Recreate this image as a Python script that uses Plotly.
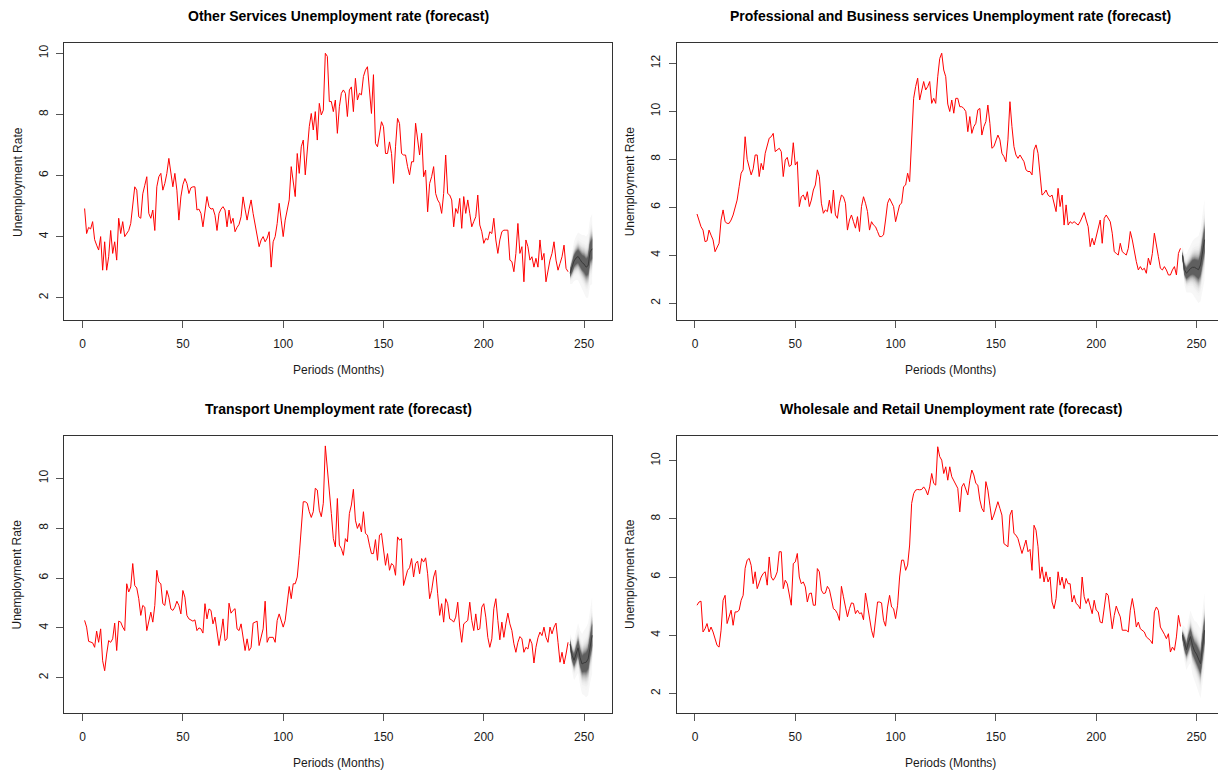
import plotly.graph_objects as go
from statistics import NormalDist

W, H = 1218, 772

# ---- observed monthly unemployment rates (months 1..242) ----
other_services = [
    4.92, 4.10, 4.30, 4.25, 4.49, 3.90, 3.72, 3.56, 4.00, 2.90,
    3.83, 2.90, 3.34, 4.20, 3.45, 3.83, 3.23, 4.60, 4.10, 4.49,
    4.00, 4.10, 4.20, 4.43, 4.98, 5.63, 5.52, 4.65, 4.60, 5.40,
    5.68, 5.96, 4.76, 4.60, 4.87, 4.20, 5.63, 5.96, 6.07, 5.52,
    5.74, 6.07, 6.56, 6.07, 5.63, 6.07, 5.52, 4.54, 5.30, 5.70,
    5.90, 5.74, 5.41, 5.60, 5.63, 5.63, 4.87, 4.90, 4.76, 4.32,
    4.80, 5.31, 4.98, 4.90, 4.92, 4.70, 4.20, 4.76, 4.90, 4.98,
    4.87, 4.32, 4.87, 4.43, 4.60, 4.16, 4.30, 4.40, 4.65, 5.30,
    4.90, 4.54, 4.90, 5.20, 4.76, 4.40, 4.10, 3.67, 3.89, 4.00,
    3.83, 3.95, 4.16, 3.00, 3.83, 4.00, 4.43, 5.09, 4.54, 4.00,
    4.54, 4.90, 5.20, 6.29, 5.85, 5.31, 6.72, 6.07, 6.94, 7.16,
    6.02, 6.94, 7.60, 8.03, 7.49, 8.09, 7.16, 8.36, 7.98, 8.14,
    10.00, 9.90, 8.42, 8.42, 8.09, 8.47, 7.38, 8.25, 8.69, 8.80,
    8.69, 7.93, 8.80, 8.90, 8.09, 9.18, 8.47, 8.69, 8.64, 9.24,
    9.45, 9.56, 8.90, 8.03, 9.30, 7.05, 6.94, 7.38, 7.76, 7.60,
    6.72, 6.72, 7.10, 6.72, 5.74, 6.94, 7.87, 7.70, 6.72, 6.67,
    6.67, 6.29, 6.02, 6.45, 6.45, 7.71, 7.16, 6.67, 7.38, 5.96,
    6.18, 4.81, 5.74, 5.96, 6.29, 5.41, 5.20, 5.09, 4.76, 5.41,
    6.67, 5.41, 5.36, 5.20, 4.32, 4.92, 4.76, 5.25, 4.27, 5.31,
    4.76, 5.20, 4.76, 4.32, 4.49, 4.65, 5.36, 4.38, 4.16, 3.78,
    3.94, 3.89, 4.16, 4.10, 4.60, 3.89, 3.45, 3.89, 4.16, 4.21,
    4.21, 4.21, 3.23, 3.18, 2.85, 3.45, 4.43, 3.45, 3.67, 2.52,
    3.89, 3.67, 3.23, 3.34, 3.00, 3.29, 3.00, 3.89, 3.23, 3.45,
    2.52, 2.90, 3.23, 3.45, 3.83, 3.23, 2.90, 3.12, 3.34, 3.72,
    2.96, 2.85,
]

prof_business = [
    5.72, 5.40, 5.19, 5.05, 4.57, 4.60, 5.05, 4.84, 4.64, 4.15,
    4.36, 4.50, 5.47, 5.89, 5.40, 5.33, 5.33, 5.47, 5.68, 6.03,
    6.30, 6.86, 7.42, 7.56, 8.94, 8.00, 7.70, 7.35, 7.60, 8.18,
    8.18, 7.28, 7.83, 7.56, 8.25, 8.53, 8.88, 8.94, 9.08, 8.32,
    8.39, 8.46, 8.32, 7.28, 7.97, 8.08, 7.70, 7.76, 8.69, 7.76,
    7.90, 6.03, 6.44, 6.51, 6.30, 6.65, 6.03, 6.30, 6.72, 6.93,
    7.56, 7.28, 6.17, 5.75, 5.89, 5.82, 6.30, 5.75, 6.72, 5.68,
    5.54, 6.17, 6.51, 6.44, 6.17, 5.05, 5.47, 5.68, 5.40, 5.13,
    5.61, 4.99, 6.03, 6.44, 6.17, 5.82, 5.05, 5.40, 5.26, 5.19,
    4.99, 4.78, 4.78, 4.85, 5.47, 6.17, 6.37, 6.17, 6.03, 5.40,
    5.75, 6.10, 6.17, 6.86, 6.93, 7.42, 7.07, 8.53, 10.54, 11.03,
    11.38, 10.47, 10.89, 11.24, 10.89, 11.03, 11.24, 10.33, 10.54, 10.33,
    11.44, 12.20, 12.42, 11.72, 11.44, 10.30, 9.99, 10.47, 9.92, 10.54,
    10.54, 10.19, 10.19, 10.12, 9.99, 9.15, 9.78, 9.08, 9.36, 9.50,
    10.06, 10.12, 9.01, 9.36, 9.57, 10.26, 9.50, 8.46, 8.53, 8.81,
    9.01, 8.81, 8.25, 8.11, 7.90, 8.81, 10.40, 9.36, 8.53, 8.18,
    8.04, 8.18, 8.04, 7.90, 7.56, 7.49, 7.49, 7.35, 8.39, 8.60,
    8.25, 7.42, 6.51, 6.58, 6.72, 6.51, 6.44, 6.51, 6.17, 5.82,
    6.79, 6.03, 6.51, 5.26, 6.10, 5.26, 5.40, 5.33, 5.40, 5.33,
    5.26, 5.40, 5.61, 5.78, 5.47, 5.19, 4.36, 4.71, 4.43, 4.78,
    5.05, 5.47, 4.50, 5.54, 5.68, 5.54, 5.40, 4.92, 4.15, 4.08,
    4.01, 4.50, 4.15, 4.08, 4.01, 4.29, 4.99, 4.64, 4.15, 3.74,
    3.39, 3.53, 3.39, 3.46, 3.25, 3.88, 3.60, 4.08, 4.92, 4.36,
    3.94, 3.46, 3.39, 3.53, 3.39, 3.18, 3.18, 3.39, 3.53, 3.18,
    4.08, 4.29,
]

transport = [
    4.30, 4.03, 3.46, 3.44, 3.40, 3.22, 3.87, 3.42, 3.96, 2.68,
    2.28, 2.95, 3.49, 3.42, 3.56, 4.19, 3.09, 4.27, 4.23, 4.03,
    3.89, 5.77, 5.44, 5.64, 6.58, 5.70, 5.60, 5.17, 4.50, 4.90,
    4.83, 3.89, 4.30, 4.63, 4.23, 4.90, 6.31, 5.84, 5.77, 4.97,
    4.90, 5.50, 5.23, 4.76, 4.70, 4.83, 5.07, 4.90, 4.56, 5.50,
    5.23, 4.50, 4.36, 4.30, 4.27, 4.32, 3.89, 4.00, 3.96, 3.79,
    4.97, 4.36, 4.76, 4.70, 4.16, 4.43, 3.76, 3.29, 3.76, 4.36,
    3.49, 3.56, 4.99, 4.59, 4.70, 4.77, 3.96, 3.89, 4.16, 3.69,
    3.09, 3.56, 3.09, 3.22, 4.19, 4.23, 4.27, 3.29, 3.69, 3.96,
    5.07, 3.42, 3.62, 3.62, 3.62, 3.42, 4.30, 4.56, 4.30, 4.03,
    4.30, 5.03, 5.66, 5.17, 5.77, 5.77, 6.04, 6.91, 8.05, 9.06,
    9.06, 9.00, 8.66, 8.43, 8.66, 9.60, 9.53, 8.72, 8.46, 9.00,
    11.30, 10.47, 9.53, 8.59, 7.58, 7.25, 9.19, 7.32, 7.18, 6.91,
    7.58, 7.45, 8.59, 8.93, 9.56, 8.32, 7.99, 8.19, 7.85, 8.66,
    7.79, 7.72, 7.32, 6.98, 6.98, 7.54, 6.71, 7.72, 7.79, 7.25,
    6.51, 6.98, 6.31, 6.58, 6.51, 6.11, 7.65, 7.52, 7.58, 5.70,
    6.04, 6.31, 6.41, 6.78, 6.04, 6.58, 6.68, 6.17, 6.78, 6.64,
    6.81, 6.17, 5.17, 5.50, 6.04, 6.31, 5.37, 4.50, 4.97, 4.23,
    5.17, 4.97, 4.36, 4.32, 4.23, 4.43, 5.03, 4.03, 3.42, 4.16,
    4.23, 4.30, 5.03, 4.30, 3.89, 4.56, 3.92, 3.96, 4.83, 4.97,
    4.43, 3.62, 3.22, 3.56, 4.77, 5.17, 4.30, 3.52, 4.23, 3.62,
    4.16, 4.59, 4.16, 3.89, 3.36, 3.02, 3.42, 3.65, 3.56, 3.02,
    3.22, 3.15, 3.56, 3.36, 2.59, 3.22, 3.60, 3.83, 3.69, 4.03,
    3.62, 3.42, 4.03, 3.76, 4.03, 4.19, 3.42, 2.62, 3.02, 2.55,
    2.95, 3.42,
]

wholesale_retail = [
    5.03, 5.14, 5.17, 4.11, 4.22, 4.40, 4.11, 4.28, 4.11, 3.88,
    3.65, 3.59, 4.17, 5.20, 5.37, 4.40, 4.63, 4.86, 4.34, 4.80,
    4.80, 4.86, 5.20, 5.37, 6.30, 6.58, 6.64, 6.40, 5.77, 6.18,
    5.60, 5.83, 6.00, 6.12, 6.18, 5.72, 6.69, 6.00, 5.89, 6.00,
    6.18, 6.87, 6.87, 5.60, 5.89, 5.77, 5.43, 5.03, 6.46, 6.52,
    6.81, 6.00, 5.77, 5.83, 5.66, 5.14, 5.43, 5.45, 5.03, 5.03,
    6.29, 6.18, 5.55, 5.43, 5.45, 5.68, 5.57, 5.26, 4.91, 4.86,
    4.74, 4.51, 5.68, 5.32, 4.97, 4.63, 4.91, 5.11, 5.09, 4.74,
    4.86, 4.74, 4.77, 4.53, 5.45, 5.03, 4.51, 4.17, 3.92, 4.51,
    5.14, 5.14, 5.11, 4.51, 4.31, 4.97, 5.37, 4.97, 4.91, 4.57,
    5.03, 6.00, 6.58, 6.58, 6.23, 6.41, 7.10, 8.53, 8.87, 8.99,
    9.01, 9.00, 9.01, 9.10, 9.00, 8.82, 9.10, 9.56, 9.22, 9.16,
    10.48, 10.14, 10.02, 9.56, 9.79, 9.33, 9.79, 9.45, 9.33, 9.22,
    9.05, 8.24, 9.10, 9.22, 8.99, 8.82, 9.33, 9.68, 9.51, 9.22,
    9.16, 8.65, 8.36, 8.24, 9.28, 8.99, 8.47, 7.96, 8.13, 8.36,
    8.59, 8.36, 8.13, 7.15, 7.10, 7.04, 8.13, 8.30, 7.50, 7.44,
    7.32, 7.10, 6.81, 7.04, 7.27, 6.87, 6.95, 6.23, 7.78, 7.61,
    7.04, 5.95, 6.35, 5.83, 6.18, 5.83, 6.00, 5.14, 4.91, 5.26,
    6.18, 5.72, 6.00, 5.60, 5.95, 5.77, 5.77, 5.14, 5.37, 5.09,
    5.03, 4.91, 6.00, 5.32, 5.09, 5.26, 4.97, 4.74, 5.20, 4.86,
    4.80, 4.45, 4.42, 4.86, 5.45, 5.37, 4.86, 4.22, 4.68, 5.00,
    4.80, 4.63, 4.17, 4.17, 4.17, 4.11, 4.86, 5.26, 4.86, 4.28,
    4.45, 4.22, 4.17, 4.11, 3.94, 3.88, 3.82, 3.71, 4.80, 4.97,
    4.85, 4.28, 4.17, 4.03, 3.88, 4.05, 3.42, 3.59, 3.48, 3.94,
    4.68, 4.30,
]

# ---- 12-month forecasts: point forecast and 99% half-width ----
other_fc_mean = [2.80, 3.00, 3.20, 3.30, 3.35, 3.25, 3.15, 3.10, 3.00, 3.05, 3.50, 3.60]
other_fc_spread = [0.35, 0.55, 0.65, 0.72, 0.78, 0.84, 0.90, 0.95, 1.00, 1.05, 1.10, 1.15]

prof_fc_mean = [4.00, 3.40, 3.25, 3.35, 3.45, 3.50, 3.50, 3.45, 3.40, 3.60, 4.10, 4.65]
prof_fc_spread = [0.40, 0.65, 0.80, 0.90, 1.00, 1.10, 1.20, 1.30, 1.40, 1.50, 1.60, 1.70]

transport_fc_mean = [3.35, 2.90, 2.70, 2.95, 3.20, 2.80, 2.55, 2.60, 2.62, 2.75, 3.30, 3.70]
transport_fc_spread = [0.40, 0.65, 0.80, 0.90, 1.00, 1.10, 1.20, 1.30, 1.40, 1.45, 1.50, 1.55]

wholesale_fc_mean = [4.00, 3.70, 3.50, 3.75, 3.95, 3.65, 3.45, 3.35, 3.20, 3.02, 3.60, 4.17]
wholesale_fc_spread = [0.35, 0.60, 0.70, 0.80, 0.90, 1.00, 1.05, 1.10, 1.15, 1.20, 1.25, 1.30]

titles = [
    "Other Services Unemployment rate (forecast)",
    "Professional and Business services Unemployment rate (forecast)",
    "Transport Unemployment rate (forecast)",
    "Wholesale and Retail Unemployment rate (forecast)",
]
x_ticks = [0, 50, 100, 150, 200, 250]
x_label = "Periods (Months)"
y_label = "Unemployment Rate"

# fan levels (percent), widest first
fan_levels = list(range(99, 50, -3))

FONT = "Liberation Sans, Arial, Helvetica, sans-serif"
PX_PER_MONTH = 2.006
X_MIN = -9.12

# plot boxes in pixels: left, top, right, bottom
panels = [
    dict(obs=other_services, mean=other_fc_mean, spread=other_fc_spread,
         box=(64.3, 43.3, 612.3, 320.0), yrange=[1.27, 10.327], yticks=[2, 4, 6, 8, 10]),
    dict(obs=prof_business, mean=prof_fc_mean, spread=prof_fc_spread,
         box=(676.7, 43.3, 1218.0, 320.0), yrange=[1.304, 12.833], yticks=[2, 4, 6, 8, 10, 12]),
    dict(obs=transport, mean=transport_fc_mean, spread=transport_fc_spread,
         box=(64.3, 435.7, 612.3, 712.7), yrange=[0.596, 11.71], yticks=[2, 4, 6, 8, 10]),
    dict(obs=wholesale_retail, mean=wholesale_fc_mean, spread=wholesale_fc_spread,
         box=(676.7, 435.7, 1218.0, 712.7), yrange=[1.334, 10.86], yticks=[2, 4, 6, 8, 10]),
]

nd = NormalDist()
z99 = nd.inv_cdf(0.995)

fig = go.Figure()
annotations = []
layout_axes = {}

for i, p in enumerate(panels):
    sfx = "" if i == 0 else str(i + 1)
    xref, yref = "x" + sfx, "y" + sfx
    l, t, r, b = p["box"]
    right_side = r >= W

    n_obs = len(p["obs"])
    obs_x = list(range(1, n_obs + 1))
    fc_x = list(range(n_obs + 1, n_obs + 1 + len(p["mean"])))

    # fan of prediction intervals: pale outer bands, darker towards the centre
    n_lev = len(fan_levels)
    for k, lev in enumerate(fan_levels):
        z = nd.inv_cdf(0.5 + lev / 200.0)
        upper = [m + s * z / z99 for m, s in zip(p["mean"], p["spread"])]
        lower = [m - s * z / z99 for m, s in zip(p["mean"], p["spread"])]
        frac = k / (n_lev - 1)
        g = int(round(247 - (247 - 95) * frac ** 1.5))
        fig.add_trace(go.Scatter(
            x=fc_x + fc_x[::-1], y=upper + lower[::-1],
            fill="toself", fillcolor=f"rgb({g},{g},{g})",
            line=dict(width=0), mode="lines", hoverinfo="skip",
            xaxis=xref, yaxis=yref, showlegend=False,
        ))
    fig.add_trace(go.Scatter(
        x=fc_x, y=p["mean"], mode="lines",
        line=dict(color="#3a3a3a", width=1),
        xaxis=xref, yaxis=yref, showlegend=False,
    ))

    # observed series
    fig.add_trace(go.Scatter(
        x=obs_x, y=p["obs"], mode="lines",
        line=dict(color="#ff0000", width=1),
        xaxis=xref, yaxis=yref, showlegend=False,
    ))

    x_max = X_MIN + (r - l) / PX_PER_MONTH
    layout_axes["xaxis" + sfx] = dict(
        domain=[l / W, r / W], anchor=yref, range=[X_MIN, x_max],
        tickvals=x_ticks, ticks="outside", ticklen=7, tickwidth=1, tickcolor="#555",
        showline=True, linecolor="#333", linewidth=1, mirror=True,
        showgrid=False, zeroline=False, ticklabelstandoff=6,
        tickfont=dict(family=FONT, size=12, color="#1a1a1a"),
    )
    layout_axes["yaxis" + sfx] = dict(
        domain=[1 - b / H, 1 - t / H], anchor=xref, range=p["yrange"],
        tickvals=p["yticks"], ticks="outside", ticklen=7, tickwidth=1, tickcolor="#555",
        showline=True, linecolor="#333", linewidth=1, mirror=not right_side,
        showgrid=False, zeroline=False, tickangle=-90, ticklabelstandoff=4,
        tickfont=dict(family=FONT, size=12, color="#1a1a1a"),
    )

    full_right = l + (264.12 - X_MIN) * PX_PER_MONTH
    cx = (l + full_right) / 2
    annotations.append(dict(
        text=f"<b>{titles[i]}</b>", x=cx / W, y=1 - (t - 27) / H,
        xref="paper", yref="paper", xanchor="center", yanchor="middle",
        showarrow=False, font=dict(family=FONT, size=14, color="#000"),
    ))
    annotations.append(dict(
        text=x_label, x=cx / W, y=1 - (b + 50) / H,
        xref="paper", yref="paper", xanchor="center", yanchor="middle",
        showarrow=False, font=dict(family=FONT, size=12, color="#1a1a1a"),
    ))
    annotations.append(dict(
        text=y_label, x=(l - 47) / W, y=1 - ((t + b) / 2) / H,
        xref="paper", yref="paper", xanchor="center", yanchor="middle",
        textangle=-90, showarrow=False,
        font=dict(family=FONT, size=12, color="#1a1a1a"),
    ))

fig.update_layout(
    width=W, height=H,
    margin=dict(l=0, r=0, t=0, b=0),
    paper_bgcolor="white", plot_bgcolor="white",
    showlegend=False, annotations=annotations,
    **layout_axes,
)

fig.write_html("out.html", config={"displayModeBar": False})
